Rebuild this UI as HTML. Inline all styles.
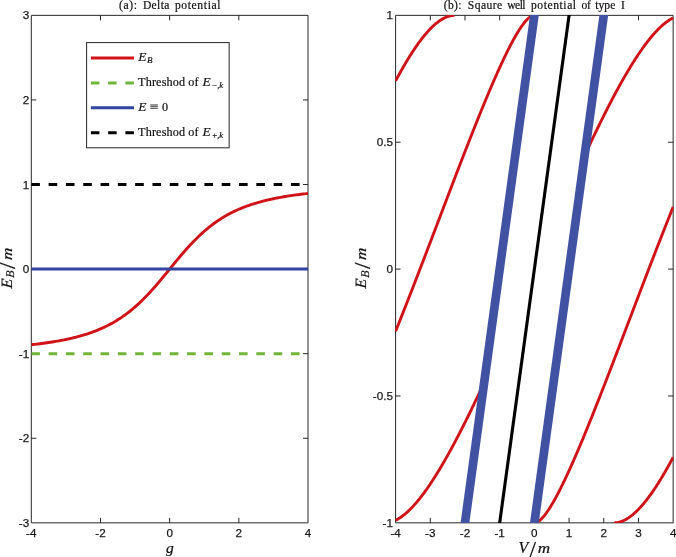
<!DOCTYPE html>
<html lang="en"><head><meta charset="utf-8"><title>Bound state energies</title>
<style>
html,body{margin:0;padding:0;background:#fff}
svg{display:block}
.tk{font-family:"Liberation Sans",Arial,sans-serif;font-size:11.7px;fill:#1a1a1a;stroke:#1a1a1a;stroke-width:.25}
.tx{font-family:"Liberation Serif","Times New Roman",serif;fill:#111;stroke:#111;stroke-width:.2}
.it{font-style:italic}
.ax{stroke:#262626;stroke-width:1;fill:none}
</style></head><body>
<svg width="676" height="557" viewBox="0 0 676 557">
<rect width="676" height="557" fill="#fff"/>
<defs><clipPath id="cl"><rect x="31.3" y="14.85" width="277.2" height="508.5"/></clipPath>
<clipPath id="cr"><rect x="395.1" y="15.05" width="278.55" height="507.9"/></clipPath></defs>
<path class="ax" d="M31.3 15.35H308V522.85H31.3ZM100.475 522.85v-5 M100.475 15.35v5M169.65 522.85v-5 M169.65 15.35v5M238.825 522.85v-5 M238.825 15.35v5M31.3 99.9333h5 M308 99.9333h-5M31.3 184.517h5 M308 184.517h-5M31.3 269.1h5 M308 269.1h-5M31.3 353.683h5 M308 353.683h-5M31.3 438.267h5 M308 438.267h-5"/>
<path class="ax" d="M395.6 15.35H673.15V522.85H395.6ZM430.294 522.85v-5 M430.294 15.35v5M464.988 522.85v-5 M464.988 15.35v5M499.681 522.85v-5 M499.681 15.35v5M534.375 522.85v-5 M534.375 15.35v5M569.069 522.85v-5 M569.069 15.35v5M603.763 522.85v-5 M603.763 15.35v5M638.456 522.85v-5 M638.456 15.35v5M395.6 142.225h5 M673.15 142.225h-5M395.6 269.1h5 M673.15 269.1h-5M395.6 395.975h5 M673.15 395.975h-5"/>
<g clip-path="url(#cl)" fill="none">
<path d="M31.3 344.75 L33.03 344.56 L34.76 344.36 L36.49 344.16 L38.22 343.95 L39.95 343.73 L41.68 343.51 L43.41 343.28 L45.13 343.04 L46.86 342.79 L48.59 342.54 L50.32 342.28 L52.05 342.01 L53.78 341.73 L55.51 341.44 L57.24 341.14 L58.97 340.83 L60.7 340.51 L62.43 340.18 L64.16 339.83 L65.89 339.48 L67.62 339.11 L69.35 338.73 L71.08 338.34 L72.81 337.93 L74.53 337.51 L76.26 337.07 L77.99 336.61 L79.72 336.14 L81.45 335.65 L83.18 335.15 L84.91 334.62 L86.64 334.08 L88.37 333.51 L90.1 332.93 L91.83 332.32 L93.56 331.69 L95.29 331.03 L97.02 330.35 L98.75 329.64 L100.47 328.91 L102.2 328.15 L103.93 327.36 L105.66 326.54 L107.39 325.68 L109.12 324.8 L110.85 323.88 L112.58 322.93 L114.31 321.94 L116.04 320.91 L117.77 319.85 L119.5 318.75 L121.23 317.61 L122.96 316.42 L124.69 315.2 L126.42 313.93 L128.15 312.62 L129.87 311.26 L131.6 309.86 L133.33 308.42 L135.06 306.93 L136.79 305.39 L138.52 303.81 L140.25 302.18 L141.98 300.51 L143.71 298.8 L145.44 297.04 L147.17 295.24 L148.9 293.4 L150.63 291.53 L152.36 289.61 L154.09 287.67 L155.81 285.69 L157.54 283.68 L159.27 281.65 L161 279.59 L162.73 277.52 L164.46 275.43 L166.19 273.32 L167.92 271.21 L169.65 269.1 L171.38 266.99 L173.11 264.88 L174.84 262.77 L176.57 260.68 L178.3 258.61 L180.03 256.55 L181.76 254.52 L183.49 252.51 L185.21 250.53 L186.94 248.59 L188.67 246.67 L190.4 244.8 L192.13 242.96 L193.86 241.16 L195.59 239.4 L197.32 237.69 L199.05 236.02 L200.78 234.39 L202.51 232.81 L204.24 231.27 L205.97 229.78 L207.7 228.34 L209.43 226.94 L211.16 225.58 L212.88 224.27 L214.61 223 L216.34 221.78 L218.07 220.59 L219.8 219.45 L221.53 218.35 L223.26 217.29 L224.99 216.26 L226.72 215.27 L228.45 214.32 L230.18 213.4 L231.91 212.52 L233.64 211.66 L235.37 210.84 L237.1 210.05 L238.82 209.29 L240.55 208.56 L242.28 207.85 L244.01 207.17 L245.74 206.51 L247.47 205.88 L249.2 205.27 L250.93 204.69 L252.66 204.12 L254.39 203.58 L256.12 203.05 L257.85 202.55 L259.58 202.06 L261.31 201.59 L263.04 201.13 L264.77 200.69 L266.5 200.27 L268.22 199.86 L269.95 199.47 L271.68 199.09 L273.41 198.72 L275.14 198.37 L276.87 198.02 L278.6 197.69 L280.33 197.37 L282.06 197.06 L283.79 196.76 L285.52 196.47 L287.25 196.19 L288.98 195.92 L290.71 195.66 L292.44 195.41 L294.17 195.16 L295.89 194.92 L297.62 194.69 L299.35 194.47 L301.08 194.25 L302.81 194.04 L304.54 193.84 L306.27 193.64 L308 193.45" stroke="#cf1419" stroke-width="2.9" stroke-linejoin="round"/>
<path d="M31.3 353.683 H308" stroke="#72b53a" stroke-width="3" stroke-dasharray="8.6 8.71"/>
<path d="M31.3 269.1 H308" stroke="#3344a0" stroke-width="3"/>
<path d="M31.3 184.517 H308" stroke="#000000" stroke-width="3" stroke-dasharray="8.6 8.71"/>
</g>
<text class="tk" x="29.2" y="19.45" text-anchor="end">3</text>
<text class="tk" x="29.2" y="104.033" text-anchor="end">2</text>
<text class="tk" x="29.2" y="188.617" text-anchor="end">1</text>
<text class="tk" x="29.2" y="273.2" text-anchor="end">0</text>
<text class="tk" x="29.2" y="357.783" text-anchor="end">-1</text>
<text class="tk" x="29.2" y="442.367" text-anchor="end">-2</text>
<text class="tk" x="29.2" y="526.95" text-anchor="end">-3</text>
<text class="tk" x="31.3" y="537.3" text-anchor="middle">-4</text>
<text class="tk" x="100.475" y="537.3" text-anchor="middle">-2</text>
<text class="tk" x="169.65" y="537.3" text-anchor="middle">0</text>
<text class="tk" x="238.825" y="537.3" text-anchor="middle">2</text>
<text class="tk" x="308" y="537.3" text-anchor="middle">4</text>
<g clip-path="url(#cr)" fill="none">
<path d="M395.6 520.27 L395.95 520.1 L396.29 519.93 L396.64 519.75 L396.99 519.56 L397.33 519.37 L397.68 519.18 L398.03 518.98 L398.38 518.78 L398.72 518.57 L399.07 518.36 L399.42 518.14 L399.76 517.92 L400.11 517.69 L400.46 517.46 L400.8 517.23 L401.15 516.99 L401.5 516.74 L401.84 516.49 L402.19 516.24 L402.54 515.98 L402.89 515.72 L403.23 515.46 L403.58 515.19 L403.93 514.91 L404.27 514.63 L404.62 514.35 L404.97 514.07 L405.31 513.78 L405.66 513.48 L406.01 513.18 L406.36 512.88 L406.7 512.57 L407.05 512.26 L407.4 511.95 L407.74 511.63 L408.09 511.31 L408.44 510.99 L408.78 510.66 L409.13 510.32 L409.48 509.99 L409.82 509.65 L410.17 509.3 L410.52 508.96 L410.87 508.6 L411.21 508.25 L411.56 507.89 L411.91 507.53 L412.25 507.16 L412.6 506.8 L412.95 506.42 L413.29 506.05 L413.64 505.67 L413.99 505.29 L414.33 504.9 L414.68 504.51 L415.03 504.12 L415.38 503.73 L415.72 503.33 L416.07 502.92 L416.42 502.52 L416.76 502.11 L417.11 501.7 L417.46 501.29 L417.8 500.87 L418.15 500.45 L418.5 500.02 L418.84 499.6 L419.19 499.17 L419.54 498.73 L419.89 498.3 L420.23 497.86 L420.58 497.42 L420.93 496.97 L421.27 496.52 L421.62 496.07 L421.97 495.62 L422.31 495.16 L422.66 494.71 L423.01 494.24 L423.36 493.78 L423.7 493.31 L424.05 492.84 L424.4 492.37 L424.74 491.89 L425.09 491.41 L425.44 490.93 L425.78 490.45 L426.13 489.96 L426.48 489.48 L426.82 488.98 L427.17 488.49 L427.52 487.99 L427.87 487.49 L428.21 486.99 L428.56 486.49 L428.91 485.98 L429.25 485.47 L429.6 484.96 L429.95 484.45 L430.29 483.93 L430.64 483.41 L430.99 482.89 L431.33 482.37 L431.68 481.84 L432.03 481.31 L432.38 480.78 L432.72 480.25 L433.07 479.72 L433.42 479.18 L433.76 478.64 L434.11 478.1 L434.46 477.55 L434.8 477.01 L435.15 476.46 L435.5 475.91 L435.84 475.36 L436.19 474.8 L436.54 474.24 L436.89 473.68 L437.23 473.12 L437.58 472.56 L437.93 471.99 L438.27 471.43 L438.62 470.86 L438.97 470.28 L439.31 469.71 L439.66 469.13 L440.01 468.56 L440.35 467.98 L440.7 467.39 L441.05 466.81 L441.4 466.23 L441.74 465.64 L442.09 465.05 L442.44 464.46 L442.78 463.86 L443.13 463.27 L443.48 462.67 L443.82 462.07 L444.17 461.47 L444.52 460.87 L444.87 460.26 L445.21 459.66 L445.56 459.05 L445.91 458.44 L446.25 457.83 L446.6 457.21 L446.95 456.6 L447.29 455.98 L447.64 455.36 L447.99 454.74 L448.33 454.12 L448.68 453.5 L449.03 452.87 L449.38 452.25 L449.72 451.62 L450.07 450.99 L450.42 450.35 L450.76 449.72 L451.11 449.09 L451.46 448.45 L451.8 447.81 L452.15 447.17 L452.5 446.53 L452.84 445.89 L453.19 445.24 L453.54 444.59 L453.89 443.95 L454.23 443.3 L454.58 442.65 L454.93 441.99 L455.27 441.34 L455.62 440.69 L455.97 440.03 L456.31 439.37 L456.66 438.71 L457.01 438.05 L457.35 437.39 L457.7 436.72 L458.05 436.06 L458.4 435.39 L458.74 434.72 L459.09 434.05 L459.44 433.38 L459.78 432.71 L460.13 432.04 L460.48 431.36 L460.82 430.69 L461.17 430.01 L461.52 429.33 L461.87 428.65 L462.21 427.97 L462.56 427.28 L462.91 426.6 L463.25 425.92 L463.6 425.23 L463.95 424.54 L464.29 423.85 L464.64 423.16 L464.99 422.47 L465.33 421.78 L465.68 421.08 L466.03 420.39 L466.38 419.69 L466.72 418.99 L467.07 418.3 L467.42 417.6 L467.76 416.89 L468.11 416.19 L468.46 415.49 L468.8 414.79 L469.15 414.08 L469.5 413.37 L469.84 412.67 L470.19 411.96 L470.54 411.25 L470.89 410.54 L471.23 409.82 L471.58 409.11 L471.93 408.4 L472.27 407.68 L472.62 406.96 L472.97 406.25 L473.31 405.53 L473.66 404.81 L474.01 404.09 L474.35 403.37 L474.7 402.64 L475.05 401.92 L475.4 401.2 L475.74 400.47 L476.09 399.75 L476.44 399.02 L476.78 398.29 L477.13 397.56 L477.48 396.83 L477.82 396.1 L478.17 395.37 L478.52 394.63 L478.87 393.9 L479.21 393.17 L479.56 392.43 L479.91 391.69 L480.25 390.96 L480.6 390.22 L480.95 389.48 L481.29 388.74 L481.64 388 L481.99 387.26 L482.33 386.51 L482.68 385.77 L483.03 385.03 L483.38 384.28 L483.72 383.54 L484.07 382.79" stroke="#cf1419" stroke-width="2.9" stroke-linejoin="round"/>
<path d="M395.6 80.92 L395.95 80.27 L396.29 79.62 L396.64 78.97 L396.99 78.33 L397.33 77.69 L397.68 77.05 L398.03 76.41 L398.38 75.77 L398.72 75.14 L399.07 74.51 L399.42 73.88 L399.76 73.25 L400.11 72.63 L400.46 72 L400.8 71.38 L401.15 70.77 L401.5 70.15 L401.84 69.54 L402.19 68.93 L402.54 68.32 L402.89 67.71 L403.23 67.11 L403.58 66.51 L403.93 65.91 L404.27 65.31 L404.62 64.72 L404.97 64.13 L405.31 63.54 L405.66 62.95 L406.01 62.37 L406.36 61.78 L406.7 61.21 L407.05 60.63 L407.4 60.06 L407.74 59.48 L408.09 58.92 L408.44 58.35 L408.78 57.79 L409.13 57.23 L409.48 56.67 L409.82 56.11 L410.17 55.56 L410.52 55.01 L410.87 54.47 L411.21 53.92 L411.56 53.38 L411.91 52.84 L412.25 52.31 L412.6 51.77 L412.95 51.24 L413.29 50.72 L413.64 50.19 L413.99 49.67 L414.33 49.15 L414.68 48.64 L415.03 48.13 L415.38 47.62 L415.72 47.11 L416.07 46.61 L416.42 46.11 L416.76 45.61 L417.11 45.12 L417.46 44.63 L417.8 44.14 L418.15 43.65 L418.5 43.17 L418.84 42.7 L419.19 42.22 L419.54 41.75 L419.89 41.28 L420.23 40.82 L420.58 40.35 L420.93 39.9 L421.27 39.44 L421.62 38.99 L421.97 38.54 L422.31 38.1 L422.66 37.66 L423.01 37.22 L423.36 36.78 L423.7 36.35 L424.05 35.93 L424.4 35.5 L424.74 35.08 L425.09 34.67 L425.44 34.25 L425.78 33.85 L426.13 33.44 L426.48 33.04 L426.82 32.64 L427.17 32.25 L427.52 31.86 L427.87 31.47 L428.21 31.09 L428.56 30.71 L428.91 30.33 L429.25 29.96 L429.6 29.59 L429.95 29.23 L430.29 28.87 L430.64 28.52 L430.99 28.16 L431.33 27.82 L431.68 27.47 L432.03 27.14 L432.38 26.8 L432.72 26.47 L433.07 26.14 L433.42 25.82 L433.76 25.5 L434.11 25.19 L434.46 24.88 L434.8 24.57 L435.15 24.27 L435.5 23.98 L435.84 23.68 L436.19 23.4 L436.54 23.11 L436.89 22.84 L437.23 22.56 L437.58 22.29 L437.93 22.03 L438.27 21.77 L438.62 21.51 L438.97 21.26 L439.31 21.01 L439.66 20.77 L440.01 20.54 L440.35 20.3 L440.7 20.08 L441.05 19.85 L441.4 19.64 L441.74 19.43 L442.09 19.22 L442.44 19.02 L442.78 18.82 L443.13 18.63 L443.48 18.44 L443.82 18.26 L444.17 18.08 L444.52 17.91 L444.87 17.74 L445.21 17.58 L445.56 17.42 L445.91 17.27 L446.25 17.13 L446.6 16.99 L446.95 16.85 L447.29 16.73 L447.64 16.6 L447.99 16.48 L448.33 16.37 L448.68 16.27 L449.03 16.16 L449.38 16.07 L449.72 15.98 L450.07 15.9 L450.42 15.82 L450.76 15.75 L451.11 15.68 L451.46 15.62 L451.8 15.57 L452.15 15.52 L452.5 15.47 L452.84 15.44 L453.19 15.41 L453.54 15.39 L453.89 15.37 L454.23 15.36 L454.58 15.35" stroke="#cf1419" stroke-width="2.9" stroke-linejoin="round"/>
<path d="M395.6 331.27 L395.95 330.4 L396.29 329.54 L396.64 328.67 L396.99 327.81 L397.33 326.94 L397.68 326.08 L398.03 325.21 L398.38 324.34 L398.72 323.47 L399.07 322.6 L399.42 321.73 L399.76 320.86 L400.11 319.99 L400.46 319.12 L400.8 318.25 L401.15 317.37 L401.5 316.5 L401.84 315.62 L402.19 314.75 L402.54 313.87 L402.89 313 L403.23 312.12 L403.58 311.24 L403.93 310.36 L404.27 309.48 L404.62 308.6 L404.97 307.72 L405.31 306.84 L405.66 305.96 L406.01 305.08 L406.36 304.2 L406.7 303.31 L407.05 302.43 L407.4 301.54 L407.74 300.66 L408.09 299.77 L408.44 298.89 L408.78 298 L409.13 297.11 L409.48 296.23 L409.82 295.34 L410.17 294.45 L410.52 293.56 L410.87 292.67 L411.21 291.78 L411.56 290.89 L411.91 290 L412.25 289.11 L412.6 288.21 L412.95 287.32 L413.29 286.43 L413.64 285.53 L413.99 284.64 L414.33 283.75 L414.68 282.85 L415.03 281.96 L415.38 281.06 L415.72 280.16 L416.07 279.27 L416.42 278.37 L416.76 277.47 L417.11 276.57 L417.46 275.68 L417.8 274.78 L418.15 273.88 L418.5 272.98 L418.84 272.08 L419.19 271.18 L419.54 270.28 L419.89 269.38 L420.23 268.48 L420.58 267.58 L420.93 266.67 L421.27 265.77 L421.62 264.87 L421.97 263.97 L422.31 263.06 L422.66 262.16 L423.01 261.26 L423.36 260.35 L423.7 259.45 L424.05 258.54 L424.4 257.64 L424.74 256.73 L425.09 255.83 L425.44 254.92 L425.78 254.02 L426.13 253.11 L426.48 252.2 L426.82 251.3 L427.17 250.39 L427.52 249.48 L427.87 248.58 L428.21 247.67 L428.56 246.76 L428.91 245.85 L429.25 244.94 L429.6 244.04 L429.95 243.13 L430.29 242.22 L430.64 241.31 L430.99 240.4 L431.33 239.49 L431.68 238.58 L432.03 237.67 L432.38 236.76 L432.72 235.85 L433.07 234.94 L433.42 234.03 L433.76 233.12 L434.11 232.21 L434.46 231.3 L434.8 230.39 L435.15 229.48 L435.5 228.57 L435.84 227.66 L436.19 226.75 L436.54 225.84 L436.89 224.93 L437.23 224.02 L437.58 223.11 L437.93 222.2 L438.27 221.29 L438.62 220.38 L438.97 219.46 L439.31 218.55 L439.66 217.64 L440.01 216.73 L440.35 215.82 L440.7 214.91 L441.05 214 L441.4 213.09 L441.74 212.18 L442.09 211.27 L442.44 210.35 L442.78 209.44 L443.13 208.53 L443.48 207.62 L443.82 206.71 L444.17 205.8 L444.52 204.89 L444.87 203.98 L445.21 203.07 L445.56 202.16 L445.91 201.25 L446.25 200.34 L446.6 199.43 L446.95 198.52 L447.29 197.61 L447.64 196.7 L447.99 195.79 L448.33 194.89 L448.68 193.98 L449.03 193.07 L449.38 192.16 L449.72 191.25 L450.07 190.34 L450.42 189.44 L450.76 188.53 L451.11 187.62 L451.46 186.72 L451.8 185.81 L452.15 184.9 L452.5 184 L452.84 183.09 L453.19 182.18 L453.54 181.28 L453.89 180.37 L454.23 179.47 L454.58 178.56 L454.93 177.66 L455.27 176.76 L455.62 175.85 L455.97 174.95 L456.31 174.05 L456.66 173.14 L457.01 172.24 L457.35 171.34 L457.7 170.44 L458.05 169.54 L458.4 168.64 L458.74 167.74 L459.09 166.84 L459.44 165.94 L459.78 165.04 L460.13 164.14 L460.48 163.24 L460.82 162.35 L461.17 161.45 L461.52 160.55 L461.87 159.66 L462.21 158.76 L462.56 157.87 L462.91 156.97 L463.25 156.08 L463.6 155.18 L463.95 154.29 L464.29 153.4 L464.64 152.51 L464.99 151.62 L465.33 150.73 L465.68 149.84 L466.03 148.95 L466.38 148.06 L466.72 147.17 L467.07 146.28 L467.42 145.39 L467.76 144.51 L468.11 143.62 L468.46 142.74 L468.8 141.85 L469.15 140.97 L469.5 140.09 L469.84 139.21 L470.19 138.32 L470.54 137.44 L470.89 136.56 L471.23 135.68 L471.58 134.81 L471.93 133.93 L472.27 133.05 L472.62 132.18 L472.97 131.3 L473.31 130.43 L473.66 129.55 L474.01 128.68 L474.35 127.81 L474.7 126.94 L475.05 126.07 L475.4 125.2 L475.74 124.33 L476.09 123.47 L476.44 122.6 L476.78 121.73 L477.13 120.87 L477.48 120.01 L477.82 119.14 L478.17 118.28 L478.52 117.42 L478.87 116.56 L479.21 115.71 L479.56 114.85 L479.91 113.99 L480.25 113.14 L480.6 112.29 L480.95 111.43 L481.29 110.58 L481.64 109.73 L481.99 108.88 L482.33 108.04 L482.68 107.19 L483.03 106.34 L483.38 105.5 L483.72 104.66 L484.07 103.82 L484.42 102.98 L484.76 102.14 L485.11 101.3 L485.46 100.46 L485.8 99.63 L486.15 98.79 L486.5 97.96 L486.84 97.13 L487.19 96.3 L487.54 95.48 L487.89 94.65 L488.23 93.82 L488.58 93 L488.93 92.18 L489.27 91.36 L489.62 90.54 L489.97 89.72 L490.31 88.91 L490.66 88.1 L491.01 87.28 L491.35 86.47 L491.7 85.66 L492.05 84.86 L492.4 84.05 L492.74 83.25 L493.09 82.45 L493.44 81.65 L493.78 80.85 L494.13 80.05 L494.48 79.26 L494.82 78.47 L495.17 77.68 L495.52 76.89 L495.86 76.1 L496.21 75.32 L496.56 74.54 L496.91 73.76 L497.25 72.98 L497.6 72.21 L497.95 71.43 L498.29 70.66 L498.64 69.89 L498.99 69.13 L499.33 68.36 L499.68 67.6 L500.03 66.84 L500.38 66.08 L500.72 65.33 L501.07 64.58 L501.42 63.83 L501.76 63.08 L502.11 62.33 L502.46 61.59 L502.8 60.85 L503.15 60.12 L503.5 59.38 L503.84 58.65 L504.19 57.92 L504.54 57.2 L504.89 56.48 L505.23 55.76 L505.58 55.04 L505.93 54.33 L506.27 53.62 L506.62 52.91 L506.97 52.21 L507.31 51.51 L507.66 50.81 L508.01 50.11 L508.35 49.42 L508.7 48.74 L509.05 48.05 L509.4 47.37 L509.74 46.7 L510.09 46.02 L510.44 45.36 L510.78 44.69 L511.13 44.03 L511.48 43.37 L511.82 42.72 L512.17 42.07 L512.52 41.43 L512.86 40.79 L513.21 40.15 L513.56 39.52 L513.91 38.89 L514.25 38.27 L514.6 37.65 L514.95 37.04 L515.29 36.43 L515.64 35.83 L515.99 35.23 L516.33 34.64 L516.68 34.05 L517.03 33.47 L517.38 32.89 L517.72 32.32 L518.07 31.75 L518.42 31.19 L518.76 30.64 L519.11 30.09 L519.46 29.55 L519.8 29.01 L520.15 28.49 L520.5 27.96 L520.84 27.45 L521.19 26.94 L521.54 26.44 L521.89 25.95 L522.23 25.46 L522.58 24.98 L522.93 24.51 L523.27 24.05 L523.62 23.59 L523.97 23.15 L524.31 22.71 L524.66 22.28 L525.01 21.86 L525.35 21.45 L525.7 21.05 L526.05 20.66 L526.4 20.28 L526.74 19.91 L527.09 19.55 L527.44 19.21 L527.78 18.87 L528.13 18.55 L528.48 18.24 L528.82 17.94 L529.17 17.65 L529.52 17.38 L529.86 17.12 L530.21 16.88 L530.56 16.65 L530.91 16.44 L531.25 16.25 L531.6 16.07 L531.95 15.91 L532.29 15.77 L532.64 15.64 L532.99 15.54 L533.33 15.46 L533.68 15.4 L534.03 15.37" stroke="#cf1419" stroke-width="2.9" stroke-linejoin="round"/>
<path d="M534.72 522.83 L535.07 522.8 L535.42 522.74 L535.76 522.66 L536.11 522.56 L536.46 522.43 L536.8 522.29 L537.15 522.13 L537.5 521.95 L537.84 521.76 L538.19 521.55 L538.54 521.32 L538.89 521.08 L539.23 520.82 L539.58 520.55 L539.93 520.26 L540.27 519.96 L540.62 519.65 L540.97 519.33 L541.31 518.99 L541.66 518.65 L542.01 518.29 L542.35 517.92 L542.7 517.54 L543.05 517.15 L543.4 516.75 L543.74 516.34 L544.09 515.92 L544.44 515.49 L544.78 515.05 L545.13 514.61 L545.48 514.15 L545.82 513.69 L546.17 513.22 L546.52 512.74 L546.86 512.25 L547.21 511.76 L547.56 511.26 L547.91 510.75 L548.25 510.24 L548.6 509.71 L548.95 509.19 L549.29 508.65 L549.64 508.11 L549.99 507.56 L550.33 507.01 L550.68 506.45 L551.03 505.88 L551.37 505.31 L551.72 504.73 L552.07 504.15 L552.42 503.56 L552.76 502.97 L553.11 502.37 L553.46 501.77 L553.8 501.16 L554.15 500.55 L554.5 499.93 L554.84 499.31 L555.19 498.68 L555.54 498.05 L555.89 497.41 L556.23 496.77 L556.58 496.13 L556.93 495.48 L557.27 494.83 L557.62 494.17 L557.97 493.51 L558.31 492.84 L558.66 492.18 L559.01 491.5 L559.35 490.83 L559.7 490.15 L560.05 489.46 L560.4 488.78 L560.74 488.09 L561.09 487.39 L561.44 486.69 L561.78 485.99 L562.13 485.29 L562.48 484.58 L562.82 483.87 L563.17 483.16 L563.52 482.44 L563.86 481.72 L564.21 481 L564.56 480.28 L564.91 479.55 L565.25 478.82 L565.6 478.08 L565.95 477.35 L566.29 476.61 L566.64 475.87 L566.99 475.12 L567.33 474.37 L567.68 473.62 L568.03 472.87 L568.37 472.12 L568.72 471.36 L569.07 470.6 L569.42 469.84 L569.76 469.07 L570.11 468.31 L570.46 467.54 L570.8 466.77 L571.15 465.99 L571.5 465.22 L571.84 464.44 L572.19 463.66 L572.54 462.88 L572.89 462.1 L573.23 461.31 L573.58 460.52 L573.93 459.73 L574.27 458.94 L574.62 458.15 L574.97 457.35 L575.31 456.55 L575.66 455.75 L576.01 454.95 L576.35 454.15 L576.7 453.34 L577.05 452.54 L577.4 451.73 L577.74 450.92 L578.09 450.1 L578.44 449.29 L578.78 448.48 L579.13 447.66 L579.48 446.84 L579.82 446.02 L580.17 445.2 L580.52 444.38 L580.86 443.55 L581.21 442.72 L581.56 441.9 L581.91 441.07 L582.25 440.24 L582.6 439.41 L582.95 438.57 L583.29 437.74 L583.64 436.9 L583.99 436.06 L584.33 435.22 L584.68 434.38 L585.03 433.54 L585.37 432.7 L585.72 431.86 L586.07 431.01 L586.42 430.16 L586.76 429.32 L587.11 428.47 L587.46 427.62 L587.8 426.77 L588.15 425.91 L588.5 425.06 L588.84 424.21 L589.19 423.35 L589.54 422.49 L589.88 421.64 L590.23 420.78 L590.58 419.92 L590.93 419.06 L591.27 418.19 L591.62 417.33 L591.97 416.47 L592.31 415.6 L592.66 414.73 L593.01 413.87 L593.35 413 L593.7 412.13 L594.05 411.26 L594.4 410.39 L594.74 409.52 L595.09 408.65 L595.44 407.77 L595.78 406.9 L596.13 406.02 L596.48 405.15 L596.82 404.27 L597.17 403.39 L597.52 402.52 L597.86 401.64 L598.21 400.76 L598.56 399.88 L598.91 398.99 L599.25 398.11 L599.6 397.23 L599.95 396.35 L600.29 395.46 L600.64 394.58 L600.99 393.69 L601.33 392.81 L601.68 391.92 L602.03 391.03 L602.37 390.14 L602.72 389.25 L603.07 388.36 L603.42 387.47 L603.76 386.58 L604.11 385.69 L604.46 384.8 L604.8 383.91 L605.15 383.02 L605.5 382.12 L605.84 381.23 L606.19 380.33 L606.54 379.44 L606.88 378.54 L607.23 377.65 L607.58 376.75 L607.93 375.85 L608.27 374.96 L608.62 374.06 L608.97 373.16 L609.31 372.26 L609.66 371.36 L610.01 370.46 L610.35 369.56 L610.7 368.66 L611.05 367.76 L611.4 366.86 L611.74 365.96 L612.09 365.06 L612.44 364.15 L612.78 363.25 L613.13 362.35 L613.48 361.44 L613.82 360.54 L614.17 359.64 L614.52 358.73 L614.86 357.83 L615.21 356.92 L615.56 356.02 L615.91 355.11 L616.25 354.2 L616.6 353.3 L616.95 352.39 L617.29 351.48 L617.64 350.58 L617.99 349.67 L618.33 348.76 L618.68 347.86 L619.03 346.95 L619.37 346.04 L619.72 345.13 L620.07 344.22 L620.42 343.31 L620.76 342.41 L621.11 341.5 L621.46 340.59 L621.8 339.68 L622.15 338.77 L622.5 337.86 L622.84 336.95 L623.19 336.04 L623.54 335.13 L623.88 334.22 L624.23 333.31 L624.58 332.4 L624.93 331.49 L625.27 330.58 L625.62 329.67 L625.97 328.76 L626.31 327.85 L626.66 326.93 L627.01 326.02 L627.35 325.11 L627.7 324.2 L628.05 323.29 L628.4 322.38 L628.74 321.47 L629.09 320.56 L629.44 319.65 L629.78 318.74 L630.13 317.82 L630.48 316.91 L630.82 316 L631.17 315.09 L631.52 314.18 L631.86 313.27 L632.21 312.36 L632.56 311.45 L632.91 310.54 L633.25 309.63 L633.6 308.72 L633.95 307.81 L634.29 306.9 L634.64 305.99 L634.99 305.08 L635.33 304.17 L635.68 303.26 L636.03 302.35 L636.37 301.44 L636.72 300.53 L637.07 299.62 L637.42 298.71 L637.76 297.8 L638.11 296.89 L638.46 295.98 L638.8 295.07 L639.15 294.16 L639.5 293.26 L639.84 292.35 L640.19 291.44 L640.54 290.53 L640.88 289.62 L641.23 288.72 L641.58 287.81 L641.93 286.9 L642.27 286 L642.62 285.09 L642.97 284.18 L643.31 283.28 L643.66 282.37 L644.01 281.47 L644.35 280.56 L644.7 279.66 L645.05 278.75 L645.39 277.85 L645.74 276.94 L646.09 276.04 L646.44 275.14 L646.78 274.23 L647.13 273.33 L647.48 272.43 L647.82 271.53 L648.17 270.62 L648.52 269.72 L648.86 268.82 L649.21 267.92 L649.56 267.02 L649.91 266.12 L650.25 265.22 L650.6 264.32 L650.95 263.42 L651.29 262.52 L651.64 261.63 L651.99 260.73 L652.33 259.83 L652.68 258.93 L653.03 258.04 L653.37 257.14 L653.72 256.24 L654.07 255.35 L654.42 254.45 L654.76 253.56 L655.11 252.67 L655.46 251.77 L655.8 250.88 L656.15 249.99 L656.5 249.09 L656.84 248.2 L657.19 247.31 L657.54 246.42 L657.88 245.53 L658.23 244.64 L658.58 243.75 L658.93 242.86 L659.27 241.97 L659.62 241.09 L659.97 240.2 L660.31 239.31 L660.66 238.43 L661.01 237.54 L661.35 236.66 L661.7 235.77 L662.05 234.89 L662.39 234 L662.74 233.12 L663.09 232.24 L663.44 231.36 L663.78 230.48 L664.13 229.6 L664.48 228.72 L664.82 227.84 L665.17 226.96 L665.52 226.08 L665.86 225.2 L666.21 224.33 L666.56 223.45 L666.91 222.58 L667.25 221.7 L667.6 220.83 L667.95 219.95 L668.29 219.08 L668.64 218.21 L668.99 217.34 L669.33 216.47 L669.68 215.6 L670.03 214.73 L670.37 213.86 L670.72 212.99 L671.07 212.12 L671.42 211.26 L671.76 210.39 L672.11 209.53 L672.46 208.66 L672.8 207.8 L673.15 206.93" stroke="#cf1419" stroke-width="2.9" stroke-linejoin="round"/>
<path d="M584.68 155.41 L585.03 154.66 L585.37 153.92 L585.72 153.17 L586.07 152.43 L586.42 151.69 L586.76 150.94 L587.11 150.2 L587.46 149.46 L587.8 148.72 L588.15 147.98 L588.5 147.24 L588.84 146.51 L589.19 145.77 L589.54 145.03 L589.88 144.3 L590.23 143.57 L590.58 142.83 L590.93 142.1 L591.27 141.37 L591.62 140.64 L591.97 139.91 L592.31 139.18 L592.66 138.45 L593.01 137.73 L593.35 137 L593.7 136.28 L594.05 135.56 L594.4 134.83 L594.74 134.11 L595.09 133.39 L595.44 132.67 L595.78 131.95 L596.13 131.24 L596.48 130.52 L596.82 129.8 L597.17 129.09 L597.52 128.38 L597.86 127.66 L598.21 126.95 L598.56 126.24 L598.91 125.53 L599.25 124.83 L599.6 124.12 L599.95 123.41 L600.29 122.71 L600.64 122.01 L600.99 121.31 L601.33 120.6 L601.68 119.9 L602.03 119.21 L602.37 118.51 L602.72 117.81 L603.07 117.12 L603.42 116.42 L603.76 115.73 L604.11 115.04 L604.46 114.35 L604.8 113.66 L605.15 112.97 L605.5 112.28 L605.84 111.6 L606.19 110.92 L606.54 110.23 L606.88 109.55 L607.23 108.87 L607.58 108.19 L607.93 107.51 L608.27 106.84 L608.62 106.16 L608.97 105.49 L609.31 104.82 L609.66 104.15 L610.01 103.48 L610.35 102.81 L610.7 102.14 L611.05 101.48 L611.4 100.81 L611.74 100.15 L612.09 99.49 L612.44 98.83 L612.78 98.17 L613.13 97.51 L613.48 96.86 L613.82 96.21 L614.17 95.55 L614.52 94.9 L614.86 94.25 L615.21 93.61 L615.56 92.96 L615.91 92.31 L616.25 91.67 L616.6 91.03 L616.95 90.39 L617.29 89.75 L617.64 89.11 L617.99 88.48 L618.33 87.85 L618.68 87.21 L619.03 86.58 L619.37 85.95 L619.72 85.33 L620.07 84.7 L620.42 84.08 L620.76 83.46 L621.11 82.84 L621.46 82.22 L621.8 81.6 L622.15 80.99 L622.5 80.37 L622.84 79.76 L623.19 79.15 L623.54 78.54 L623.88 77.94 L624.23 77.33 L624.58 76.73 L624.93 76.13 L625.27 75.53 L625.62 74.93 L625.97 74.34 L626.31 73.74 L626.66 73.15 L627.01 72.56 L627.35 71.97 L627.7 71.39 L628.05 70.81 L628.4 70.22 L628.74 69.64 L629.09 69.07 L629.44 68.49 L629.78 67.92 L630.13 67.34 L630.48 66.77 L630.82 66.21 L631.17 65.64 L631.52 65.08 L631.86 64.52 L632.21 63.96 L632.56 63.4 L632.91 62.84 L633.25 62.29 L633.6 61.74 L633.95 61.19 L634.29 60.65 L634.64 60.1 L634.99 59.56 L635.33 59.02 L635.68 58.48 L636.03 57.95 L636.37 57.42 L636.72 56.89 L637.07 56.36 L637.42 55.83 L637.76 55.31 L638.11 54.79 L638.46 54.27 L638.8 53.75 L639.15 53.24 L639.5 52.73 L639.84 52.22 L640.19 51.71 L640.54 51.21 L640.88 50.71 L641.23 50.21 L641.58 49.71 L641.93 49.22 L642.27 48.72 L642.62 48.24 L642.97 47.75 L643.31 47.27 L643.66 46.79 L644.01 46.31 L644.35 45.83 L644.7 45.36 L645.05 44.89 L645.39 44.42 L645.74 43.96 L646.09 43.49 L646.44 43.04 L646.78 42.58 L647.13 42.13 L647.48 41.68 L647.82 41.23 L648.17 40.78 L648.52 40.34 L648.86 39.9 L649.21 39.47 L649.56 39.03 L649.91 38.6 L650.25 38.18 L650.6 37.75 L650.95 37.33 L651.29 36.91 L651.64 36.5 L651.99 36.09 L652.33 35.68 L652.68 35.28 L653.03 34.87 L653.37 34.47 L653.72 34.08 L654.07 33.69 L654.42 33.3 L654.76 32.91 L655.11 32.53 L655.46 32.15 L655.8 31.78 L656.15 31.4 L656.5 31.04 L656.84 30.67 L657.19 30.31 L657.54 29.95 L657.88 29.6 L658.23 29.24 L658.58 28.9 L658.93 28.55 L659.27 28.21 L659.62 27.88 L659.97 27.54 L660.31 27.21 L660.66 26.89 L661.01 26.57 L661.35 26.25 L661.7 25.94 L662.05 25.63 L662.39 25.32 L662.74 25.02 L663.09 24.72 L663.44 24.42 L663.78 24.13 L664.13 23.85 L664.48 23.57 L664.82 23.29 L665.17 23.01 L665.52 22.74 L665.86 22.48 L666.21 22.22 L666.56 21.96 L666.91 21.71 L667.25 21.46 L667.6 21.21 L667.95 20.97 L668.29 20.74 L668.64 20.51 L668.99 20.28 L669.33 20.06 L669.68 19.84 L670.03 19.63 L670.37 19.42 L670.72 19.22 L671.07 19.02 L671.42 18.83 L671.76 18.64 L672.11 18.45 L672.46 18.27 L672.8 18.1 L673.15 17.93" stroke="#cf1419" stroke-width="2.9" stroke-linejoin="round"/>
<path d="M614.17 522.85 L614.52 522.84 L614.86 522.83 L615.21 522.81 L615.56 522.79 L615.91 522.76 L616.25 522.73 L616.6 522.68 L616.95 522.63 L617.29 522.58 L617.64 522.52 L617.99 522.45 L618.33 522.38 L618.68 522.3 L619.03 522.22 L619.37 522.13 L619.72 522.04 L620.07 521.93 L620.42 521.83 L620.76 521.72 L621.11 521.6 L621.46 521.47 L621.8 521.35 L622.15 521.21 L622.5 521.07 L622.84 520.93 L623.19 520.78 L623.54 520.62 L623.88 520.46 L624.23 520.29 L624.58 520.12 L624.93 519.94 L625.27 519.76 L625.62 519.57 L625.97 519.38 L626.31 519.18 L626.66 518.98 L627.01 518.77 L627.35 518.56 L627.7 518.35 L628.05 518.12 L628.4 517.9 L628.74 517.66 L629.09 517.43 L629.44 517.19 L629.78 516.94 L630.13 516.69 L630.48 516.43 L630.82 516.17 L631.17 515.91 L631.52 515.64 L631.86 515.36 L632.21 515.09 L632.56 514.8 L632.91 514.52 L633.25 514.22 L633.6 513.93 L633.95 513.63 L634.29 513.32 L634.64 513.01 L634.99 512.7 L635.33 512.38 L635.68 512.06 L636.03 511.73 L636.37 511.4 L636.72 511.06 L637.07 510.73 L637.42 510.38 L637.76 510.04 L638.11 509.68 L638.46 509.33 L638.8 508.97 L639.15 508.61 L639.5 508.24 L639.84 507.87 L640.19 507.49 L640.54 507.11 L640.88 506.73 L641.23 506.34 L641.58 505.95 L641.93 505.56 L642.27 505.16 L642.62 504.76 L642.97 504.35 L643.31 503.95 L643.66 503.53 L644.01 503.12 L644.35 502.7 L644.7 502.27 L645.05 501.85 L645.39 501.42 L645.74 500.98 L646.09 500.54 L646.44 500.1 L646.78 499.66 L647.13 499.21 L647.48 498.76 L647.82 498.3 L648.17 497.85 L648.52 497.38 L648.86 496.92 L649.21 496.45 L649.56 495.98 L649.91 495.5 L650.25 495.03 L650.6 494.55 L650.95 494.06 L651.29 493.57 L651.64 493.08 L651.99 492.59 L652.33 492.09 L652.68 491.59 L653.03 491.09 L653.37 490.58 L653.72 490.07 L654.07 489.56 L654.42 489.05 L654.76 488.53 L655.11 488.01 L655.46 487.48 L655.8 486.96 L656.15 486.43 L656.5 485.89 L656.84 485.36 L657.19 484.82 L657.54 484.28 L657.88 483.73 L658.23 483.19 L658.58 482.64 L658.93 482.09 L659.27 481.53 L659.62 480.97 L659.97 480.41 L660.31 479.85 L660.66 479.28 L661.01 478.72 L661.35 478.14 L661.7 477.57 L662.05 476.99 L662.39 476.42 L662.74 475.83 L663.09 475.25 L663.44 474.66 L663.78 474.07 L664.13 473.48 L664.48 472.89 L664.82 472.29 L665.17 471.69 L665.52 471.09 L665.86 470.49 L666.21 469.88 L666.56 469.27 L666.91 468.66 L667.25 468.05 L667.6 467.43 L667.95 466.82 L668.29 466.2 L668.64 465.57 L668.99 464.95 L669.33 464.32 L669.68 463.69 L670.03 463.06 L670.37 462.43 L670.72 461.79 L671.07 461.15 L671.42 460.51 L671.76 459.87 L672.11 459.23 L672.46 458.58 L672.8 457.93 L673.15 457.28" stroke="#cf1419" stroke-width="2.9" stroke-linejoin="round"/>
<path d="M464.294 527.925L535.069 10.275" stroke="#4252a3" stroke-width="8.7"/>
<path d="M533.681 527.925L604.456 10.275" stroke="#4252a3" stroke-width="8.7"/>
<path d="M498.987 527.925L569.763 10.275" stroke="#000000" stroke-width="3.1"/>
</g>
<text class="tk" x="392.9" y="19.45" text-anchor="end">1</text>
<text class="tk" x="392.9" y="146.325" text-anchor="end">0.5</text>
<text class="tk" x="392.9" y="273.2" text-anchor="end">0</text>
<text class="tk" x="392.9" y="400.075" text-anchor="end">-0.5</text>
<text class="tk" x="392.9" y="526.95" text-anchor="end">-1</text>
<text class="tk" x="395.6" y="537.3" text-anchor="middle">-4</text>
<text class="tk" x="430.294" y="537.3" text-anchor="middle">-3</text>
<text class="tk" x="464.988" y="537.3" text-anchor="middle">-2</text>
<text class="tk" x="499.681" y="537.3" text-anchor="middle">-1</text>
<text class="tk" x="534.375" y="537.3" text-anchor="middle">0</text>
<text class="tk" x="569.069" y="537.3" text-anchor="middle">1</text>
<text class="tk" x="603.763" y="537.3" text-anchor="middle">2</text>
<text class="tk" x="638.456" y="537.3" text-anchor="middle">3</text>
<text class="tk" x="673.15" y="537.3" text-anchor="middle">4</text>
<text class="tx" y="9" font-size="11.6"><tspan x="119" textLength="17.9" lengthAdjust="spacing">(a):</tspan> <tspan x="142.9" textLength="26.5" lengthAdjust="spacing">Delta</tspan> <tspan x="174.9" textLength="45.6" lengthAdjust="spacing">potential</tspan></text>
<text class="tx" y="9" font-size="11.6"><tspan x="443.7" textLength="17.7" lengthAdjust="spacing">(b):</tspan> <tspan x="467.8" textLength="34.3" lengthAdjust="spacing">Sqaure</tspan> <tspan x="507.3" textLength="18.2" lengthAdjust="spacing">well</tspan> <tspan x="531" textLength="45.1" lengthAdjust="spacing">potential</tspan> <tspan x="581.6" textLength="9.3" lengthAdjust="spacing">of</tspan> <tspan x="595.3" textLength="20" lengthAdjust="spacing">type</tspan> <tspan x="620.9">I</tspan></text>
<text class="tx it" x="166.1" y="553.4" font-size="15.5">g</text>
<text class="tx it" y="553.3"><tspan x="518.6" font-size="15.9">V</tspan><tspan x="537.8" font-size="15.5" textLength="12.4" lengthAdjust="spacingAndGlyphs">m</tspan></text>
<text class="tx" stroke="none" transform="translate(529.5 557.4)" font-size="23.5">/</text>
<g transform="translate(11.6 288.7) rotate(-90)">
<text class="tx it" transform="skewX(-5)"><tspan x="0" y="0" font-size="15.8">E</tspan><tspan x="11" y="2.7" font-size="11.8">B</tspan><tspan x="28.4" y="0" font-size="14.8" textLength="12.1" lengthAdjust="spacingAndGlyphs">m</tspan></text>
<text class="tx" stroke="none" transform="translate(19.6 3.5)" font-size="23.5">/</text>
</g>
<g transform="translate(366 288.7) rotate(-90)">
<text class="tx it" transform="skewX(-5)"><tspan x="0" y="0" font-size="15.8">E</tspan><tspan x="11" y="2.7" font-size="11.8">B</tspan><tspan x="28.4" y="0" font-size="14.8" textLength="12.1" lengthAdjust="spacingAndGlyphs">m</tspan></text>
<text class="tx" stroke="none" transform="translate(19.6 3.5)" font-size="23.5">/</text>
</g>
<rect x="86.6" y="42.6" width="142.55" height="105.2" fill="#fff" stroke="#262626" stroke-width="1"/>
<path d="M90.9 58.05H134" stroke="#cf1419" stroke-width="3" fill="none"/>
<path d="M90.9 82.9H134" stroke="#72b53a" stroke-width="3" stroke-dasharray="8.5 8.75" fill="none"/>
<path d="M90.9 107.75H134" stroke="#3344a0" stroke-width="3" fill="none"/>
<path d="M90.9 132.65H134" stroke="#000000" stroke-width="3" stroke-dasharray="8.5 8.75" fill="none"/>
<text class="tx it" font-size="13.4"><tspan x="138.2" y="60.9">E</tspan><tspan x="146.9" y="62.9" font-size="9">B</tspan></text>
<text class="tx" font-size="12.2"><tspan x="138.1" y="86" textLength="60.5" lengthAdjust="spacing">Threshod of</tspan><tspan class="it" x="202.6" font-size="13.4">E</tspan><tspan x="212.2" y="88" font-size="8.8">−,<tspan class="it">k</tspan></tspan></text>
<text class="tx" font-size="12.2"><tspan x="138.1" y="135.9" textLength="60.5" lengthAdjust="spacing">Threshod of</tspan><tspan class="it" x="202.6" font-size="13.4">E</tspan><tspan x="212.2" y="137.9" font-size="8.8">+,<tspan class="it">k</tspan></tspan></text>
<text class="tx" font-size="12.2"><tspan class="it" x="138.2" y="110.9" font-size="13.4">E</tspan><tspan x="150" textLength="8.6" lengthAdjust="spacingAndGlyphs">≡</tspan><tspan x="162">0</tspan></text>
</svg></body></html>
